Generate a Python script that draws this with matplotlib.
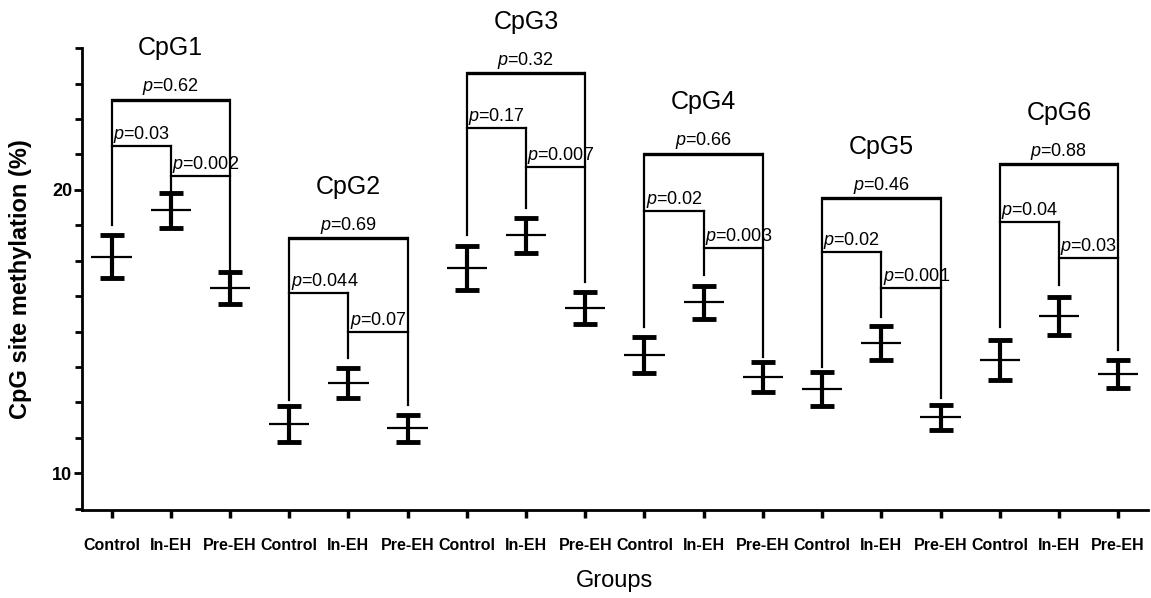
import numpy as np
import matplotlib
matplotlib.use('Agg')
import matplotlib.pyplot as plt

matplotlib.rcParams.update({'font.family': 'Liberation Sans',
                            'mathtext.fontset': 'custom',
                            'mathtext.rm': 'Liberation Sans',
                            'mathtext.it': 'Liberation Sans:italic'})

sites = ['CpG1', 'CpG2', 'CpG3', 'CpG4', 'CpG5', 'CpG6']
groups = ['Control', 'In-EH', 'Pre-EH']

# mean and sem per bar, 3 bars per site
means = [17.64, 19.27, 16.53, 11.73, 13.17, 11.58, 17.23, 18.39, 15.82,
         14.17, 16.03, 13.40, 12.97, 14.60, 11.97, 13.99, 15.55, 13.50]
errs = [0.76, 0.63, 0.56, 0.63, 0.53, 0.47, 0.77, 0.62, 0.56,
        0.64, 0.59, 0.53, 0.60, 0.60, 0.44, 0.70, 0.66, 0.50]

# bracket heights (Control vs Pre-EH, Control vs In-EH, In-EH vs Pre-EH)
h_top = [23.18, 18.29, 24.12, 21.27, 19.71, 20.91]
h_mid = [21.55, 16.35, 22.18, 19.26, 17.82, 18.88]
h_low = [20.49, 15.00, 20.80, 17.96, 16.53, 17.59]
# lower ends of bracket legs
legs = [18.76, 19.95, 17.17, 12.60, 14.05, 12.40, 18.41, 19.35, 16.76,
        15.17, 17.00, 14.11, 13.76, 15.52, 12.66, 15.17, 16.64, 14.35]

p_cp = ['0.62', '0.69', '0.32', '0.66', '0.46', '0.88']
p_ci = ['0.03', '0.044', '0.17', '0.02', '0.02', '0.04']
p_ip = ['0.002', '0.07', '0.007', '0.003', '0.001', '0.03']

x = np.arange(len(means))
means = np.array(means)
errs = np.array(errs)

fig = plt.figure(figsize=(11.51, 5.98), dpi=100)
ax = fig.add_axes([0.0712, 0.147, 0.926, 0.7726])

ax.errorbar(x, means, yerr=errs, fmt='none', ecolor='k', elinewidth=3,
            capsize=8.5, capthick=3.5)
ax.hlines(means, x - 0.34, x + 0.34, color='k', lw=1.6)

for i, s in enumerate(sites):
    x0, x1, x2 = 3*i, 3*i + 1, 3*i + 2
    ax.plot([x0, x2], [h_top[i], h_top[i]], color='k', lw=2.4, solid_capstyle='butt')
    ax.plot([x0, x0], [legs[x0], h_top[i]], color='k', lw=1.6)
    ax.plot([x2, x2], [legs[x2], h_top[i]], color='k', lw=1.6)
    ax.plot([x1, x1], [legs[x1], h_mid[i]], color='k', lw=1.6)
    ax.plot([x0, x1], [h_mid[i], h_mid[i]], color='k', lw=1.6)
    ax.plot([x1, x2], [h_low[i], h_low[i]], color='k', lw=1.6)

    ax.annotate(r'$\mathit{p}$=' + p_cp[i], (x1, h_top[i]), xytext=(0, 6),
                textcoords='offset points', ha='center', va='baseline', fontsize=13)
    ax.annotate(r'$\mathit{p}$=' + p_ci[i], (x0, h_mid[i]), xytext=(1, 5),
                textcoords='offset points', ha='left', va='baseline', fontsize=13)
    ax.annotate(r'$\mathit{p}$=' + p_ip[i], (x1, h_low[i]), xytext=(1, 5),
                textcoords='offset points', ha='left', va='baseline', fontsize=13)
    ax.annotate(s, (x1, h_top[i]), xytext=(0, 32), textcoords='offset points',
                ha='center', va='baseline', fontsize=18)

ax.set_xlim(-0.5, 17.5)
ax.set_ylim(8.7, 25)
ax.set_yticks([10, 20])
ax.set_yticks(np.arange(8.75, 25.01, 1.25), minor=True)
ax.set_xticks(x)
ax.set_xticklabels(groups * len(sites), fontweight='bold', fontsize=11.5)
for lab in ax.get_yticklabels():
    lab.set_fontweight('bold')
ax.tick_params(axis='y', labelsize=13, width=2, length=6, pad=1)
ax.tick_params(axis='y', which='minor', width=2, length=5)
ax.tick_params(axis='x', width=2.5, length=6, pad=14)

for side in ['top', 'right']:
    ax.spines[side].set_visible(False)
for side in ['left', 'bottom']:
    ax.spines[side].set_linewidth(2)

ax.set_ylabel('CpG site methylation (%)', fontsize=17, fontweight='bold')
ax.yaxis.set_label_coords(-0.047, 0.5)
ax.set_xlabel('Groups', fontsize=17, labelpad=12)

plt.savefig('out.png', dpi=100)
